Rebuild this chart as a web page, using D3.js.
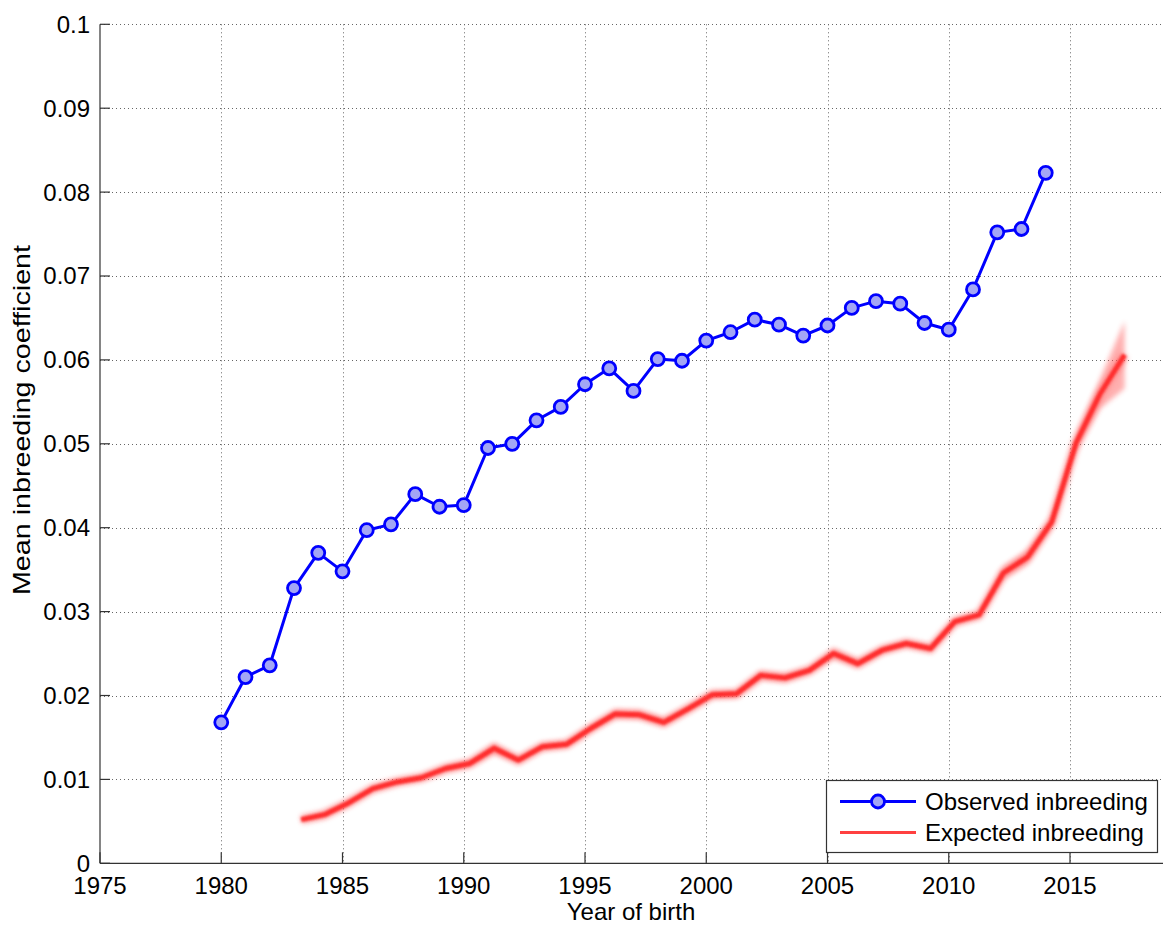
<!DOCTYPE html>
<html><head><meta charset="utf-8">
<script src="https://cdn.jsdelivr.net/npm/d3@7"></script>
<style>
body{margin:0;background:#fff}
svg text{font-family:Arial,"Liberation Sans",Helvetica,sans-serif;fill:#000}
</style>
</head><body>
<svg id="chart" width="1163" height="927"></svg>
<script>
// ---- data ----
const observedYears = [1980,1981,1982,1983,1984,1985,1986,1987,1988,1989,1990,1991,1992,1993,1994,1995,1996,1997,1998,1999,2000,2001,2002,2003,2004,2005,2006,2007,2008,2009,2010,2011,2012,2013,2014];
const observedValues = [0.0168,0.0222,0.0236,0.0328,0.0370,0.0348,0.0397,0.0404,0.0440,0.0425,0.0427,0.0495,0.0500,0.0528,0.0544,0.0571,0.0590,0.0563,0.0601,0.0599,0.0623,0.0633,0.0648,0.0642,0.0629,0.0641,0.0662,0.0670,0.0667,0.0644,0.0636,0.0684,0.0752,0.0756,0.0823];
const expectedYears = [1983.3,1984.25,1985.25,1986.25,1987.25,1988.25,1989.25,1990.25,1991.25,1992.25,1993.25,1994.25,1995.25,1996.25,1997.25,1998.25,1999.25,2000.25,2001.25,2002.25,2003.25,2004.25,2005.25,2006.25,2007.25,2008.25,2009.25,2010.25,2011.25,2012.25,2013.25,2014.25,2015.25,2016.25,2017.25];
const expectedValues = [0.0052,0.0058,0.0072,0.0089,0.0097,0.0102,0.0113,0.0119,0.0137,0.0123,0.0139,0.0142,0.0161,0.0178,0.0177,0.0168,0.0184,0.0201,0.0202,0.0224,0.0221,0.0230,0.0250,0.0238,0.0254,0.0262,0.0256,0.0288,0.0296,0.0346,0.0365,0.0407,0.0501,0.0560,0.0606];
const expectedSpread = [0.0002,0.0003,0.0003,0.0003,0.0003,0.0003,0.0004,0.0004,0.0006,0.0004,0.0004,0.0004,0.0004,0.0005,0.0005,0.0005,0.0004,0.0004,0.0004,0.0005,0.0005,0.0004,0.0006,0.0005,0.0004,0.0004,0.0004,0.0004,0.0004,0.0008,0.0009,0.0007,0.0010,0.0018,0.0040];
const xTicks = [1975,1980,1985,1990,1995,2000,2005,2010,2015];
const yTicks = [0,0.01,0.02,0.03,0.04,0.05,0.06,0.07,0.08,0.09,0.1];
const yTickLabels = ["0","0.01","0.02","0.03","0.04","0.05","0.06","0.07","0.08","0.09","0.1"];
const legendLabels = ["Observed inbreeding","Expected inbreeding"];

// ---- layout ----
const W = 1163, H = 927;
const padL = 100, padT = 24.3, padB = 863.3, padR = 1191.25;
const FS = 24;
const svg = d3.select("#chart");
const x = d3.scaleLinear().domain([1975, 2020]).range([padL, padR]);
const y = d3.scaleLinear().domain([0, 0.1]).range([padB, padT]);

const defs = svg.append("defs");
defs.append("filter").attr("id","blur1").attr("x","-10%").attr("y","-10%").attr("width","120%").attr("height","120%")
  .append("feGaussianBlur").attr("stdDeviation", 1.3);
defs.append("filter").attr("id","blur2").attr("x","-10%").attr("y","-10%").attr("width","120%").attr("height","120%")
  .append("feGaussianBlur").attr("stdDeviation", 2.5);

// grid
const grid = svg.append("g").attr("stroke","#666").attr("stroke-width",1).attr("stroke-dasharray","1,3");
grid.selectAll("line.v").data(xTicks.filter(d=>d>1975)).join("line").attr("class","v")
  .attr("x1",d=>Math.round(x(d))+0.5).attr("x2",d=>Math.round(x(d))+0.5).attr("y1",padT).attr("y2",padB);
grid.selectAll("line.h").data(yTicks.filter(d=>d>0)).join("line").attr("class","h")
  .attr("y1",d=>Math.round(y(d))+0.5).attr("y2",d=>Math.round(y(d))+0.5).attr("x1",padL).attr("x2",W);

// expected band
const expData = expectedYears.map((yr,i)=>({yr, v:expectedValues[i], s:expectedSpread[i]}));
const area = d3.area().x(d=>x(d.yr)).y0(d=>y(d.v - d.s)).y1(d=>y(d.v + d.s));
svg.append("path").datum(expData).attr("d",area).attr("fill","#ff5050").attr("opacity",0.45).attr("filter","url(#blur2)");
const expLine = d3.line().x(d=>x(d.yr)).y(d=>y(d.v));
svg.append("path").datum(expData).attr("d",expLine).attr("fill","none")
  .attr("stroke","#ff6a6a").attr("stroke-width",9).attr("opacity",0.55).attr("filter","url(#blur2)");
svg.append("path").datum(expData).attr("d",expLine).attr("fill","none")
  .attr("stroke","#ff2e2e").attr("stroke-width",5).attr("stroke-linejoin","round").attr("filter","url(#blur1)");

// observed
const obsData = observedYears.map((yr,i)=>({yr, v:observedValues[i]}));
svg.append("path").datum(obsData).attr("d",d3.line().x(d=>x(d.yr)).y(d=>y(d.v)))
  .attr("fill","none").attr("stroke","#0000ff").attr("stroke-width",3).attr("stroke-linejoin","round");
svg.append("g").selectAll("circle").data(obsData).join("circle")
  .attr("cx",d=>x(d.yr)).attr("cy",d=>y(d.v)).attr("r",6.5)
  .attr("fill","#a3a6f5").attr("stroke","#0000ff").attr("stroke-width",2.8);

// axes
const axG = svg.append("g").attr("stroke","#333").attr("stroke-width",1.2);
axG.append("line").attr("x1",padL).attr("x2",padL).attr("y1",padT).attr("y2",padB);
axG.append("line").attr("x1",padL).attr("x2",W).attr("y1",padB).attr("y2",padB);
axG.selectAll("line.yt").data(yTicks).join("line").attr("class","yt")
  .attr("x1",padL).attr("x2",padL+10).attr("y1",d=>y(d)).attr("y2",d=>y(d));
axG.selectAll("line.xt").data(xTicks).join("line").attr("class","xt")
  .attr("x1",d=>x(d)).attr("x2",d=>x(d)).attr("y1",padB).attr("y2",padB-11);

svg.append("g").selectAll("text").data(yTicks).join("text")
  .attr("x",padL-10).attr("y",d=>y(d)).attr("dy","0.35em").attr("text-anchor","end")
  .attr("font-size",FS).text((d,i)=>yTickLabels[i]);
svg.append("g").selectAll("text").data(xTicks).join("text")
  .attr("x",d=>x(d)).attr("y",894).attr("text-anchor","middle")
  .attr("font-size",FS).text(d=>d);

svg.append("text").attr("x",631).attr("y",920).attr("text-anchor","middle").attr("font-size",FS).text("Year of birth");
svg.append("text").attr("transform","translate(30,420) rotate(-90)").attr("text-anchor","middle").attr("font-size",FS)
  .attr("textLength",350).attr("lengthAdjust","spacingAndGlyphs").text("Mean inbreeding coefficient");

// legend
const lg = svg.append("g");
lg.append("rect").attr("x",826.5).attr("y",780.5).attr("width",331).attr("height",72)
  .attr("fill","#fff").attr("stroke","#333").attr("stroke-width",1.2);
lg.append("line").attr("x1",840).attr("x2",916).attr("y1",801.5).attr("y2",801.5).attr("stroke","#0000ff").attr("stroke-width",3);
lg.append("circle").attr("cx",878).attr("cy",801.5).attr("r",6.5).attr("fill","#a3a6f5").attr("stroke","#0000ff").attr("stroke-width",2.8);
lg.append("line").attr("x1",840).attr("x2",916).attr("y1",832.5).attr("y2",832.5).attr("stroke","#ff4040").attr("stroke-width",3);
lg.selectAll("text").data(legendLabels).join("text")
  .attr("x",925).attr("y",(d,i)=>801.5+i*31).attr("dy","0.35em").attr("font-size",FS).text(d=>d);
</script>
</body></html>
